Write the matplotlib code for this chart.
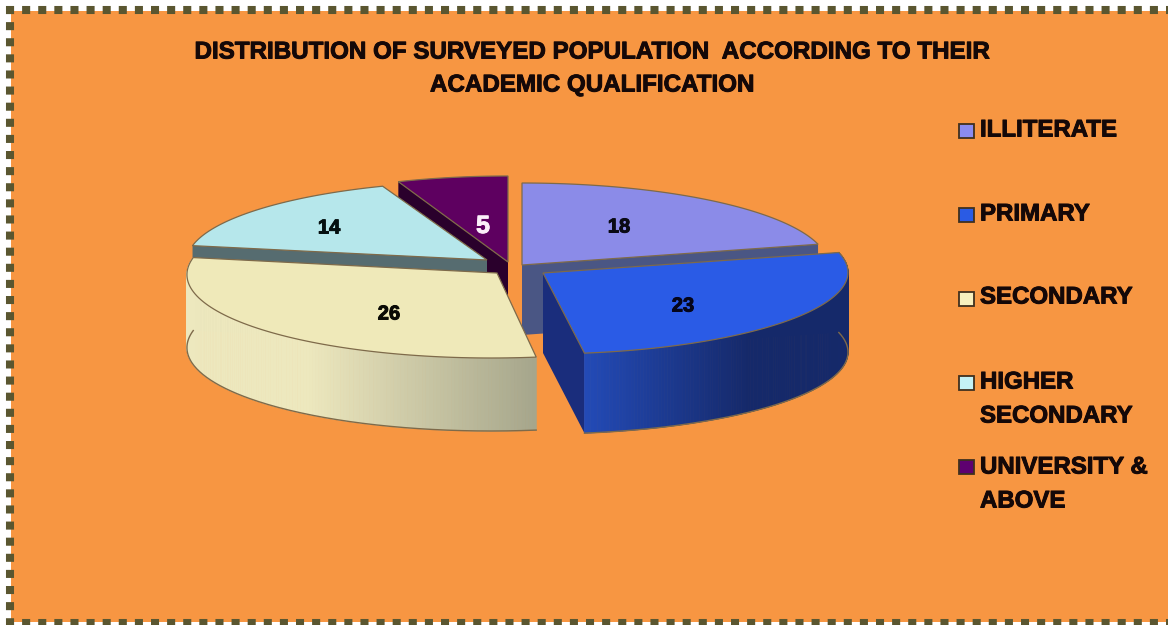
import numpy as np
import matplotlib
matplotlib.use("Agg")
import matplotlib.pyplot as plt
import matplotlib.patheffects as pe
from matplotlib.colors import to_rgb

plt.rcParams['font.family'] = ['Liberation Sans', 'DejaVu Sans']

# ---- data ----
categories = ["ILLITERATE", "PRIMARY", "SECONDARY", "HIGHER\nSECONDARY", "UNIVERSITY &\nABOVE"]
values = [18, 23, 26, 14, 5]
title_lines = ["DISTRIBUTION OF SURVEYED POPULATION  ACCORDING TO THEIR",
               "ACADEMIC QUALIFICATION"]
top_colors = ["#8B8BE8", "#2A5BE6", "#EFE9B9", "#B6E7EB", "#5E0060"]

# ---- layout (pixel space) ----
W, H = 1168, 625
BG = "#F79642"
# per-slice apex x, y, radius x, radius y, shear, depth
geom = [
    (522, 265, 306, 82, 0, 70),
    (543, 273, 305, 81, 3, 80),
    (497, 273, 310, 85, 6, 73),
    (487, 260, 300, 79, 3, 60),
    (508, 262, 307, 86, 0, 70),
]
side_grad = [
    ("#4A5A8C", "#4A5A8C"),
    ("#15296A", "#234BB8"),
    ("#EDE8BE", "#A6A68C"),
    ("#5B7478", "#5B7478"),
    ("#2C002E", "#2C002E"),
]
cut_colors = ["#4A5684", "#1A2D7C", "#A6A68C", "#566C70", "#2A002C"]
label_pos = [(619, 227), (683, 306), (389, 314), (329, 228), (483, 226)]
label_col = ["#0A0A14", "#05051A", "#0A0A05", "#051010", "#FBEFFA"]
legend_y = [131, 215, 299, 383, 467]
legend_text_y = [(130,), (214,), (297,), (382, 416), (467, 501)]

fig = plt.figure(figsize=(W / 100, H / 100), dpi=100, facecolor="white")
ax = fig.add_axes([0, 0, 1, 1])
ax.set_xlim(0, W)
ax.set_ylim(H, 0)
ax.axis("off")

# background and dotted frame
ax.fill([11, W, W, 11], [11, 11, 622, 622], color=BG, lw=0, zorder=0)
for xs, ys in (([6, W], [10, 10]), ([10, 10], [6, 625]), ([6, W], [623, 623])):
    ax.plot(xs, ys, color="#5A5630", lw=5.8, ls=(0, (1.0, 1.0)),
            dash_capstyle="butt", zorder=1)

# slice angles from the values (clockwise from 12 o'clock)
total = sum(values)
angs = [90.0]
for v in values:
    angs.append(angs[-1] - 360.0 * v / total)


def pt(g, deg, dz=0.0):
    ax0, ay0, rx, ry, sh, _ = g
    t = np.radians(deg)
    return ax0 + rx * np.cos(t) + sh * np.sin(t), ay0 - ry * np.sin(t) + dz


def lerp(c1, c2, f):
    a, b = np.array(to_rgb(c1)), np.array(to_rgb(c2))
    return tuple(a + (b - a) * f)


EDGE = "#7E6A4A"
# order: back to front
for i in [4, 3, 0, 1, 2]:
    g = geom[i]
    a0, a1 = angs[i], angs[i + 1]
    ax0, ay0, _, _, _, d = g
    z = 10 + [4, 3, 0, 1, 2].index(i)
    arc = np.linspace(a0, a1, 80)
    xs, ys = pt(g, arc)

    # cut faces
    for end in (a0, a1):
        ex, ey = pt(g, end)
        ax.fill([ax0, ex, ex, ax0], [ay0, ey, ey + d, ay0 + d],
                color=cut_colors[i], lw=0, zorder=z)

    # curved outer wall, only where it faces the viewer
    vis = [a for a in np.linspace(a0, a1, 160) if np.sin(np.radians(a)) < 0.27]
    if vis and i in (1, 2):
        vis = np.array(vis)
        vx, vy = pt(g, vis)
        lo, hi = vx.min(), vx.max()
        for k in range(len(vis) - 1):
            f = (vx[k] - lo) / (hi - lo)
            if i == 1:
                col = lerp(side_grad[i][1], side_grad[i][0], min(1, f * 1.6))
            else:
                col = lerp(side_grad[i][0], side_grad[i][1], max(0, (f - 0.35) / 0.65))
            ax.fill([vx[k], vx[k + 1], vx[k + 1], vx[k]],
                    [vy[k], vy[k + 1], vy[k + 1] + d, vy[k] + d],
                    color=col, lw=0.6, zorder=z)
        ax.plot(vx, vy + d, color=EDGE, lw=1.0, zorder=z)

    # top face
    ax.fill(np.r_[ax0, xs], np.r_[ay0, ys], facecolor=top_colors[i],
            edgecolor=EDGE, lw=0.9, zorder=z + 0.5)

# value labels
for v, (lx, ly), c in zip(values, label_pos, label_col):
    big = v == 5
    ax.text(lx, ly, str(v), ha="center", va="center", color=c, weight="bold",
            fontsize=18 if big else 14.5, zorder=30,
            path_effects=[pe.withStroke(linewidth=0.7, foreground=c)])

# title
for line, y in zip(title_lines, (52, 85)):
    ax.text(592, y, line, ha="center", va="center", weight="bold", fontsize=17.4,
            color="#140808", zorder=30,
            path_effects=[pe.withStroke(linewidth=0.7, foreground="#140808")])

# legend
legend_cols = ["#8B8BF0", "#2A5BE4", "#F8F0BE", "#C4F2F6", "#5E0070"]
for cat, c, y, tys in zip(categories, legend_cols, legend_y, legend_text_y):
    ax.fill([959, 974, 974, 959], [y - 7, y - 7, y + 7, y + 7], facecolor=c,
            edgecolor="#40301E", lw=1.3, zorder=30)
    for part, ty in zip(cat.split("\n"), tys):
        ax.text(980, ty, part, ha="left", va="center", weight="bold", fontsize=17.3,
                color="#140808", zorder=30,
                path_effects=[pe.withStroke(linewidth=0.7, foreground="#140808")])

fig.savefig("out.png", dpi=100)
